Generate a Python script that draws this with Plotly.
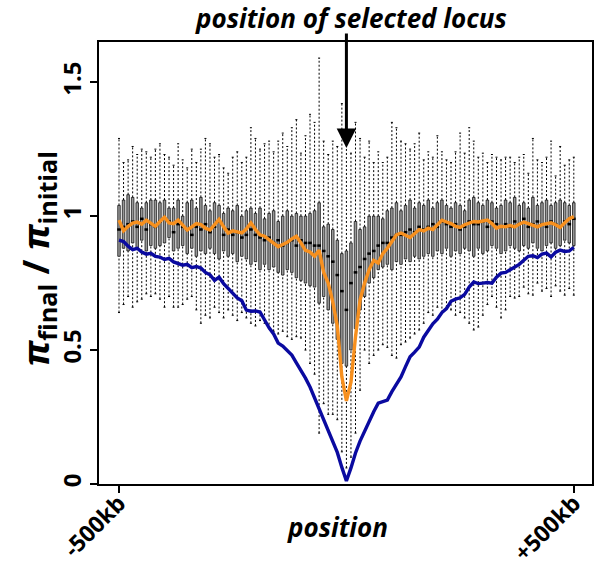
import plotly.graph_objects as go

# ---------------- data ----------------
positions = list(range(1, 102))

lower_whisker = [
    0.64, 0.67, 0.70, 0.66, 0.68, 0.69, 0.71, 0.70, 0.71, 0.69,
    0.66, 0.70, 0.66, 0.66, 0.67, 0.69, 0.70, 0.65, 0.60, 0.63,
    0.62, 0.66, 0.64, 0.62, 0.65, 0.63, 0.61, 0.64, 0.62, 0.60,
    0.59, 0.61, 0.60, 0.58, 0.57, 0.56, 0.57, 0.55, 0.54, 0.55,
    0.545, 0.50, 0.45, 0.41, 0.19, 0.30, 0.26, 0.26, 0.24, 0.12,
    0.06, 0.10, 0.19, 0.35, 0.50, 0.45, 0.48, 0.50, 0.52, 0.51,
    0.48, 0.47, 0.52, 0.53, 0.545, 0.56, 0.575, 0.60, 0.64, 0.63,
    0.66, 0.64, 0.66, 0.65, 0.63, 0.64, 0.62, 0.60, 0.575, 0.586,
    0.63, 0.67, 0.70, 0.66, 0.62, 0.65, 0.70, 0.694, 0.70, 0.735,
    0.71, 0.705, 0.75, 0.72, 0.73, 0.70, 0.74, 0.72, 0.705, 0.73,
    0.705,
]
q1 = [
    0.85, 0.88, 0.87, 0.90, 0.88, 0.91, 0.87, 0.89, 0.88, 0.89,
    0.90, 0.92, 0.87, 0.88, 0.89, 0.86, 0.88, 0.85, 0.87, 0.86,
    0.88, 0.86, 0.84, 0.87, 0.85, 0.86, 0.83, 0.85, 0.84, 0.82,
    0.83, 0.80, 0.82, 0.80, 0.81, 0.79, 0.78, 0.80, 0.79, 0.77,
    0.76, 0.75, 0.74, 0.735, 0.675, 0.70, 0.65, 0.60, 0.54, 0.45,
    0.44, 0.50, 0.58, 0.65, 0.70, 0.75, 0.77, 0.80, 0.81, 0.82,
    0.80, 0.83, 0.82, 0.84, 0.83, 0.85, 0.84, 0.85, 0.86, 0.85,
    0.87, 0.86, 0.88, 0.85, 0.87, 0.86, 0.88, 0.87, 0.85, 0.88,
    0.86, 0.87, 0.89, 0.88, 0.86, 0.87, 0.89, 0.88, 0.87, 0.89,
    0.88, 0.90, 0.88, 0.87, 0.89, 0.90, 0.88, 0.89, 0.91, 0.90,
    0.89,
]
median = [
    0.95, 0.96, 0.97, 0.98, 0.96, 0.99, 0.95, 0.97, 0.96, 0.98,
    0.99, 0.98, 0.94, 0.97, 0.96, 0.95, 0.93, 0.96, 0.95, 0.97,
    0.94, 0.96, 0.98, 0.93, 0.95, 0.93, 0.94, 0.92, 0.93, 0.95,
    0.93, 0.92, 0.91, 0.92, 0.90, 0.91, 0.89, 0.90, 0.91, 0.89,
    0.91, 0.90, 0.90, 0.89, 0.89, 0.87, 0.85, 0.83, 0.78, 0.72,
    0.65, 0.75, 0.79, 0.81, 0.84, 0.86, 0.87, 0.89, 0.90, 0.90,
    0.92, 0.93, 0.93, 0.94, 0.95, 0.94, 0.96, 0.95, 0.96, 0.97,
    0.96, 0.98, 0.97, 0.96, 0.97, 0.95, 0.96, 0.98, 0.97, 0.97,
    0.98, 0.96, 0.98, 0.97, 0.96, 0.97, 0.96, 0.98, 0.97, 0.99,
    0.96, 0.97, 0.98, 0.97, 0.96, 0.98, 0.97, 0.96, 0.98, 0.97,
    0.99,
]
q3 = [
    1.04, 1.06, 1.08, 1.07, 1.05, 1.03, 1.05, 1.06, 1.06, 1.05,
    1.06, 1.03, 1.03, 1.06, 1.00, 1.05, 1.06, 1.03, 1.07, 1.04,
    1.02, 1.05, 1.04, 1.01, 1.03, 1.02, 1.04, 1.00, 1.02, 1.03,
    1.01, 1.03, 0.99, 1.01, 1.02, 0.98, 1.00, 1.02, 1.00, 1.01,
    1.00, 1.00, 1.01, 1.02, 1.05, 0.96, 0.97, 0.95, 0.91, 0.86,
    0.87, 0.90, 0.98, 0.95, 0.96, 1.00, 1.00, 1.00, 0.99, 1.02,
    1.03, 1.05, 1.02, 1.04, 1.06, 1.03, 1.05, 1.04, 1.06, 1.03,
    1.05, 1.06, 1.04, 1.03, 1.05, 1.04, 1.02, 1.06, 1.07, 1.05,
    1.04, 1.06, 1.05, 1.03, 1.04, 1.06, 1.05, 1.07, 1.04, 1.05,
    1.03, 1.07, 1.04, 1.05, 1.06, 1.04, 1.05, 1.06, 1.05, 1.04,
    1.05,
]
upper_whisker = [
    1.29, 1.20, 1.21, 1.26, 1.23, 1.25, 1.24, 1.22, 1.25, 1.27,
    1.23, 1.22, 1.19, 1.27, 1.21, 1.18, 1.25, 1.20, 1.25, 1.29,
    1.27, 1.22, 1.23, 1.18, 1.16, 1.22, 1.24, 1.20, 1.22, 1.33,
    1.29, 1.25, 1.27, 1.28, 1.24, 1.28, 1.31, 1.26, 1.33, 1.36,
    1.235, 1.30, 1.38, 1.35, 1.59, 1.28, 1.23, 1.28, 1.26, 1.42,
    1.46, 1.235, 1.35, 1.29, 1.22, 1.28, 1.20, 1.24, 1.20, 1.22,
    1.35, 1.33, 1.28, 1.27, 1.25, 1.27, 1.31, 1.21, 1.24, 1.22,
    1.30, 1.24, 1.21, 1.20, 1.24, 1.31, 1.235, 1.33, 1.28, 1.22,
    1.235, 1.20, 1.23, 1.22, 1.21, 1.22, 1.22, 1.20, 1.22, 1.23,
    1.16, 1.29, 1.21, 1.20, 1.22, 1.28, 1.15, 1.26, 1.19, 1.21,
    1.22,
]
mean_final = [
    0.985, 0.945, 0.962, 0.974, 0.978, 0.970, 0.985, 0.975, 0.962, 0.980,
    0.996, 0.975, 0.972, 0.985, 0.965, 0.948, 0.960, 0.972, 0.968, 0.955,
    0.948, 0.968, 0.988, 0.960, 0.937, 0.945, 0.940, 0.937, 0.952, 0.975,
    0.950, 0.930, 0.925, 0.912, 0.900, 0.886, 0.894, 0.902, 0.915, 0.925,
    0.900, 0.872, 0.866, 0.850, 0.873, 0.790, 0.750, 0.680, 0.590, 0.400,
    0.310, 0.380, 0.550, 0.687, 0.750, 0.800, 0.835, 0.825, 0.860, 0.880,
    0.905, 0.930, 0.937, 0.928, 0.920, 0.935, 0.950, 0.945, 0.955, 0.950,
    0.968, 0.985, 0.978, 0.972, 0.962, 0.958, 0.968, 0.975, 0.980, 0.978,
    0.982, 0.985, 0.972, 0.955, 0.962, 0.960, 0.965, 0.960, 0.970, 0.978,
    0.972, 0.965, 0.960, 0.968, 0.972, 0.975, 0.968, 0.958, 0.975, 0.990,
    0.998,
]
expected = [
    0.910, 0.905, 0.888, 0.875, 0.880, 0.866, 0.858, 0.861, 0.850, 0.847,
    0.838, 0.842, 0.829, 0.822, 0.817, 0.820, 0.808, 0.812, 0.806, 0.790,
    0.781, 0.760, 0.772, 0.748, 0.731, 0.713, 0.695, 0.684, 0.649, 0.645,
    0.646, 0.642, 0.612, 0.583, 0.560, 0.526, 0.515, 0.497, 0.481, 0.452,
    0.425, 0.395, 0.362, 0.321, 0.276, 0.238, 0.197, 0.156, 0.118, 0.062,
    0.011, 0.060, 0.116, 0.160, 0.198, 0.236, 0.270, 0.302, 0.308, 0.313,
    0.345, 0.372, 0.400, 0.438, 0.475, 0.492, 0.511, 0.548, 0.572, 0.598,
    0.615, 0.640, 0.655, 0.682, 0.690, 0.695, 0.708, 0.735, 0.754, 0.748,
    0.750, 0.752, 0.750, 0.772, 0.787, 0.790, 0.800, 0.810, 0.820, 0.835,
    0.850, 0.852, 0.845, 0.858, 0.862, 0.848, 0.865, 0.873, 0.868, 0.870,
    0.884,
]
tick_positions = [1, 101]
tick_labels = ["-500kb", "+500kb"]
y_ticks = [0, 0.5, 1, 1.5]
y_tick_labels = ["0", "0.5", "1", "1.5"]
locus_position = 51
arrow_tip_value = 1.254

# ---------------- styling ----------------
FONT = "Open Sans"
CAP = 0.22
MED = 0.40

fig = go.Figure()

# dashed whiskers
wx, wy = [], []
for p, lo, a, b, hi in zip(positions, lower_whisker, q1, q3, upper_whisker):
    wx += [p, p, None, p, p, None]
    wy += [lo, a, None, b, hi, None]
fig.add_trace(go.Scatter(x=wx, y=wy, mode="lines", hoverinfo="skip",
                         line=dict(color="black", width=1, dash="2px,2px"),
                         showlegend=False))
# whisker caps
cx, cy = [], []
for p, lo, hi in zip(positions, lower_whisker, upper_whisker):
    cx += [p - CAP, p + CAP, None, p - CAP, p + CAP, None]
    cy += [lo, lo, None, hi, hi, None]
fig.add_trace(go.Scatter(x=cx, y=cy, mode="lines", hoverinfo="skip",
                         line=dict(color="black", width=1),
                         showlegend=False))

# boxes
fig.add_trace(go.Box(x=positions, q1=q1, median=median, q3=q3,
                     lowerfence=q1, upperfence=q3,
                     fillcolor="#979797", line=dict(color="black", width=0.7),
                     whiskerwidth=0, showlegend=False, hoverinfo="skip"))

# thick medians
mx, my = [], []
for p, m in zip(positions, median):
    mx += [p - MED, p + MED, None]
    my += [m, m, None]
fig.add_trace(go.Scatter(x=mx, y=my, mode="lines", hoverinfo="skip",
                         line=dict(color="black", width=2.5),
                         showlegend=False))

# mean line (orange) and expectation (blue)
fig.add_trace(go.Scatter(x=positions, y=mean_final, mode="lines",
                         line=dict(color="#F7901E", width=3.4), showlegend=False))
fig.add_trace(go.Scatter(x=positions, y=expected, mode="lines",
                         line=dict(color="#0A0AA0", width=3.4), showlegend=False))

fig.update_layout(
    width=600, height=571,
    margin=dict(l=99, r=8, t=42, b=87, autoexpand=False),
    paper_bgcolor="white", plot_bgcolor="white",
    font=dict(family=FONT, color="black"),
    boxgap=0.2,
    xaxis=dict(range=[-3.4, 105.0], tickvals=tick_positions, ticktext=tick_labels,
               tickangle=-45, ticks="outside", ticklen=7, tickwidth=1.5,
               tickcolor="black", showline=True, mirror=True, linecolor="black",
               linewidth=1.5, showgrid=False, zeroline=False, automargin=False,
               ticklabelstandoff=-12,
               tickfont=dict(family=FONT, size=23, weight="bold")),
    yaxis=dict(range=[0, 1.65], tickvals=y_ticks, ticktext=y_tick_labels,
               tickangle=-90, ticks="outside", ticklen=7, tickwidth=1.5,
               tickcolor="black", showline=True, mirror=True, linecolor="black",
               linewidth=1.5, showgrid=False, zeroline=False, automargin=False,
               tickfont=dict(family=FONT, size=24, weight="bold")),
)

annotations = [
    dict(text="<b><i>position of selected locus</i></b>", xref="paper", yref="paper",
         x=0.512, y=1.054, xanchor="center", yanchor="middle",
         showarrow=False, font=dict(family=FONT, size=26)),
    dict(text="", xref="x", yref="y", x=locus_position, y=arrow_tip_value,
         ax=0, ay=-116, showarrow=True, arrowhead=2, arrowsize=1.3,
         arrowwidth=3, arrowcolor="black", standoff=0, startstandoff=0),
    dict(text="<b><i>π</i><sub>final</sub> / <i>π</i><sub>initial</sub></b>",
         xref="paper", yref="paper", x=-0.124, y=0.51, textangle=-90,
         xanchor="center", yanchor="middle", showarrow=False,
         font=dict(family=FONT, size=36)),
    dict(text="<b><i>position</i></b>", xref="paper", yref="paper",
         x=0.483, y=-0.097, xanchor="center", yanchor="middle",
         showarrow=False, font=dict(family=FONT, size=26)),
]
fig.update_layout(annotations=annotations)

fig.write_html("out.html",
               config={"displayModeBar": False},
               post_script="document.body.style.margin='0';")
